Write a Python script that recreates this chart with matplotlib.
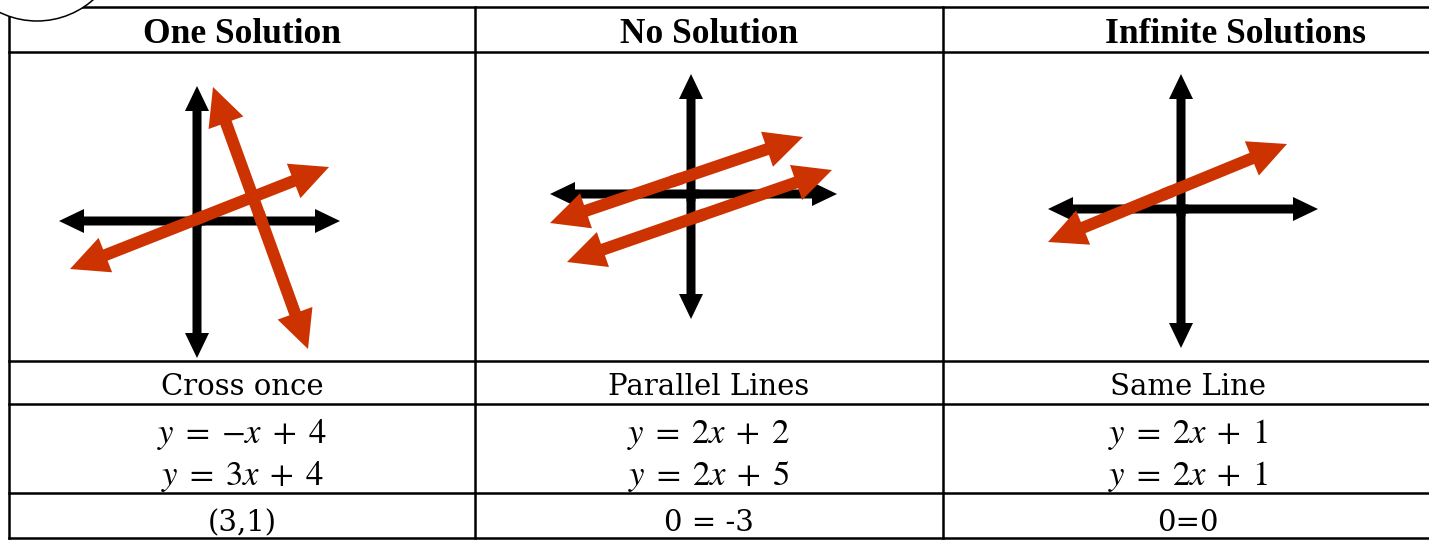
import numpy as np
import matplotlib.pyplot as plt
from matplotlib.patches import FancyArrow, Circle

plt.rcParams['mathtext.fontset'] = 'stix'

# table content
headers = ["One Solution", "No Solution", "Infinite Solutions"]
descriptions = ["Cross once", "Parallel Lines", "Same Line"]
equations = [
    [r"$y\;=\;{-x}\;+\;4$", r"$y\;=\;3x\;+\;4$"],
    [r"$y\;=\;2x\;+\;2$", r"$y\;=\;2x\;+\;5$"],
    [r"$y\;=\;2x\;+\;1$", r"$y\;=\;2x\;+\;1$"],
]
results = ["(3,1)", "0 = -3", "0=0"]

# sketches, in pixels relative to where the black axes cross (y up)
axis_x = [(-138, 143), (-141, 146), (-133, 137)]
axis_y = [(-137, 135), (-125, 120), (-139, 135)]
red_lines = [
    [((-127, -48), (132, 54)), ((111, -128), (16, 134))],
    [((-141, -29), (112, 57)), ((-124, -68), (141, 24))],
    [((-133, -33), (106, 65))],
]

# layout (pixels, measured from top left)
W, H = 1429, 540
col_edges = [9, 475, 943, 1435]
row_edges = [7, 52, 361, 404, 493, 538]
origins = [(197, 221), (691, 194), (1181, 209)]
header_x = [242, 709, 1236]
body_x = [242, 709, 1188]
red = "#CC3300"


def double_arrow(ax, p, q, w, hw, hl, color):
    p = np.array(p, float)
    q = np.array(q, float)
    mid = (p + q) / 2
    for a in (p, q):
        start = mid + (mid - a) * 0.04
        d = a - start
        ax.add_patch(FancyArrow(start[0], start[1], d[0], d[1], width=w,
                                head_width=hw, head_length=hl,
                                length_includes_head=True, color=color, lw=0))


fig = plt.figure(figsize=(W / 100, H / 100), dpi=100)
ax = fig.add_axes([0, 0, 1, 1])
ax.set_xlim(0, W)
ax.set_ylim(H, 0)
ax.axis('off')

# grid lines
lh = ax.hlines(row_edges, col_edges[0], W + 20, colors='k', linewidth=1.8)
lv = ax.vlines(col_edges, row_edges[0], row_edges[-1], colors='k', linewidth=1.8)
lh.set_capstyle('projecting')
lv.set_capstyle('projecting')

# the round tab in the corner
ax.add_patch(Circle((37, -64), 85, facecolor='white', edgecolor='k', lw=1.1, zorder=5))

for i in range(3):
    ax.text(header_x[i], 43, headers[i], ha='center', va='baseline',
            family='Liberation Serif', weight='bold', fontsize=25.5)
    ax.text(body_x[i], 395, descriptions[i], ha='center', va='baseline',
            family='DejaVu Serif', fontsize=21)
    ax.text(body_x[i], 443, equations[i][0], ha='center', va='baseline', fontsize=25)
    ax.text(body_x[i], 485, equations[i][1], ha='center', va='baseline', fontsize=25)
    ax.text(body_x[i], 531, results[i], ha='center', va='baseline',
            family='DejaVu Serif', fontsize=21)

    # sketch panel for this column
    x0, x1 = col_edges[i], col_edges[i + 1]
    y0, y1 = row_edges[1], row_edges[2]
    cx, cy = origins[i]
    pax = fig.add_axes([x0 / W, 1 - y1 / H, (x1 - x0) / W, (y1 - y0) / H])
    pax.set_xlim(x0 - cx, x1 - cx)
    pax.set_ylim(cy - y1, cy - y0)
    pax.axis('off')
    pax.patch.set_visible(False)

    double_arrow(pax, (axis_x[i][0], 0), (axis_x[i][1], 0), 9, 24, 25, 'k')
    double_arrow(pax, (0, axis_y[i][0]), (0, axis_y[i][1]), 9, 24, 25, 'k')
    for p, q in red_lines[i]:
        double_arrow(pax, p, q, 12, 37, 38, red)

fig.savefig("out.png", dpi=100)
